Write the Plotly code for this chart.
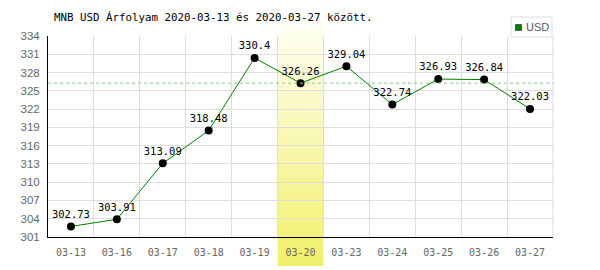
import plotly.graph_objects as go

dates = ["03-13", "03-16", "03-17", "03-18", "03-19", "03-20",
         "03-23", "03-24", "03-25", "03-26", "03-27"]
usd = [302.73, 303.91, 313.09, 318.48, 330.4, 326.26,
       329.04, 322.74, 326.93, 326.84, 322.03]
y_ticks = [301, 304, 307, 310, 313, 316, 319, 322, 325, 328, 331, 334]
highlight = "03-20"
series_name = "USD"
title = "MNB USD Árfolyam 2020-03-13 és 2020-03-27 között."

W, H = 600, 270
L, R, T, B = 48, 47, 36, 33
PW, PH = W - L - R, H - T - B


def px(x):
    return (x - L) / PW


def py(y):
    return (H - B - y) / PH


fig = go.Figure()
fig.add_trace(go.Scatter(
    x=dates, y=usd, mode="lines+markers+text",
    text=[str(v) for v in usd], textposition="top center",
    textfont=dict(family="DejaVu Sans Mono", size=10.5, color="black"),
    line=dict(color="#008000", width=1),
    marker=dict(color="black", size=8),
    showlegend=False, cliponaxis=False,
))

# highlighted day band with vertical gradient
hi = dates.index(highlight)
n = 60
y0, y1 = py(266), py(26)
c_bot = (242, 240, 106)
c_top = (254, 254, 242)
for i in range(n):
    t = i / (n - 1)
    col = tuple(round(c_bot[k] + (c_top[k] - c_bot[k]) * t) for k in range(3))
    fig.add_shape(type="rect", xref="x", yref="paper",
                  x0=hi - 0.5, x1=hi + 0.5,
                  y0=y0 + (y1 - y0) * i / n, y1=y0 + (y1 - y0) * (i + 1) / n + 0.002,
                  fillcolor="rgb(%d,%d,%d)" % col, line=dict(width=0),
                  layer="between")

fig.add_hline(y=usd[hi], line=dict(color="#88cc88", width=1, dash="3px,3px"))

# right border line
fig.add_shape(type="line", xref="paper", yref="paper", x0=1, x1=1, y0=0, y1=1,
              line=dict(color="#dddddd", width=1), layer="below")

# legend box
fig.add_shape(type="rect", xref="paper", yref="paper",
              x0=px(511), x1=px(552), y0=py(37), y1=py(17),
              line=dict(color="#dddddd", width=1), fillcolor="white")
fig.add_shape(type="rect", xref="paper", yref="paper",
              x0=px(515.5), x1=px(521.5), y0=py(30.5), y1=py(24.5),
              line=dict(color="#555555", width=1), fillcolor="#008000")
fig.add_annotation(xref="paper", yref="paper", x=px(524), y=py(27.5),
                   xanchor="left", yanchor="middle", showarrow=False,
                   text=series_name,
                   font=dict(family="Liberation Sans", size=11, color="#555"))

fig.update_layout(
    width=W, height=H,
    margin=dict(l=L, r=R, t=T, b=B),
    paper_bgcolor="white", plot_bgcolor="white",
    showlegend=False,
    title=dict(text=title, x=54 / W, xanchor="left", y=1 - 17 / H, yanchor="middle",
               font=dict(family="DejaVu Sans Mono", size=10.8, color="black")),
    xaxis=dict(type="category", tickson="boundaries", ticks="",
               showgrid=True, gridcolor="#dddddd", gridwidth=1,
               showline=True, linecolor="black", linewidth=1,
               range=[-0.5, len(dates) - 0.5],
               tickfont=dict(family="DejaVu Sans Mono", size=10, color="#666"),
               ticklabelstandoff=6),
    yaxis=dict(range=[301, 334], tickvals=y_ticks, showgrid=True,
               gridcolor="#dddddd", gridwidth=1, zeroline=False,
               showline=True, linecolor="black", linewidth=1,
               tickfont=dict(family="Liberation Sans", size=11.5, color="#666"),
               ticks="", ticklabelstandoff=5),
)

fig.write_html("out.html")
